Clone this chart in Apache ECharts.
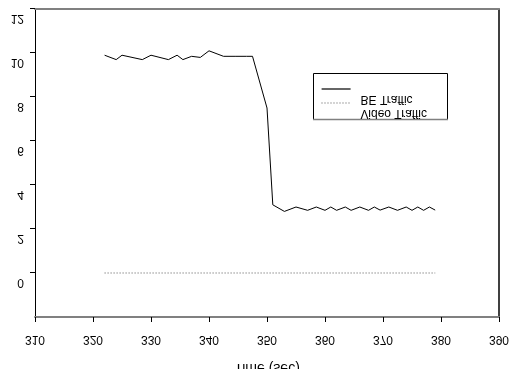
<!DOCTYPE html>
<html>
<head>
<meta charset="utf-8">
<script src="https://cdn.jsdelivr.net/npm/echarts@6/dist/echarts.min.js"></script>
<style>
  html, body { margin: 0; padding: 0; background: #fff; }
  /* the reference is drawn upside down, so the chart is built inverted and flipped back */
  #chart { width: 510px; height: 369px; transform: scaleY(-1); }
</style>
</head>
<body>
<div id="chart"></div>
<script>
// BE traffic (time in sec, value)
const beTime = [322, 324, 325, 328.5, 330, 333, 334.5, 335.5, 337, 338.5,
    340, 342.5, 344.5, 346.5, 347.5, 350, 351, 353,
    355, 357, 358.5, 360, 361, 362, 363.5, 364.5, 366, 367.5,
    368.5, 369.5, 371, 372.5, 374, 375, 376, 377, 378, 379];
const beValue = [9.9, 9.7, 9.9, 9.7, 9.9, 9.7, 9.9, 9.7, 9.85, 9.8,
    10.1, 9.85, 9.85, 9.85, 9.85, 7.5, 3.1, 2.8,
    3.0, 2.85, 3.0, 2.85, 3.0, 2.85, 3.0, 2.85, 3.0, 2.85,
    3.0, 2.86, 3.0, 2.85, 3.0, 2.85, 3.0, 2.85, 3.0, 2.86];
// Video traffic
const videoTime = [322, 379];
const videoValue = [0, 0];
// axis ticks
const xTicks = [310, 320, 330, 340, 350, 360, 370, 380, 390];
const yTicks = [0, 2, 4, 6, 8, 10, 12];

const font = "'Liberation Sans', Arial, sans-serif";

let chart = echarts.init(document.getElementById('chart'));

let legendText = {
    fontFamily: font, fontSize: 12, color: '#000',
    rich: {a: {fontFamily: font, fontSize: 12, color: '#000', padding: [0, 0, 20, 5]}}
};

let option = {
    animation: false,
    grid: {left: 35, right: 11, top: 52, bottom: 9, outerBoundsMode: 'none', containLabel: false},
    xAxis: [{
        type: 'value', position: 'top', min: 310, max: 390, interval: 10,
        name: 'Time (sec)', nameLocation: 'middle', nameGap: 44,
        nameTextStyle: {fontFamily: font, fontSize: 14, color: '#000'},
        axisLine: {onZero: false, lineStyle: {color: '#808080', width: 2}},
        axisTick: {show: true, length: 5, lineStyle: {color: '#000'}, customValues: xTicks},
        axisLabel: {fontFamily: font, fontSize: 12, color: '#000', margin: 16, customValues: xTicks},
        splitLine: {show: false}
    }, {
        type: 'value', position: 'bottom', min: 310, max: 390,
        axisLine: {show: true, onZero: false, lineStyle: {color: '#808080', width: 2}},
        axisTick: {show: false}, axisLabel: {show: false}, splitLine: {show: false}
    }],
    yAxis: [{
        type: 'value', inverse: true, min: -2, max: 12, interval: 2,
        axisLine: {show: true, onZero: false, lineStyle: {color: '#000', width: 1}},
        axisTick: {show: true, length: 5, lineStyle: {color: '#000'}, customValues: yTicks},
        axisLabel: {fontFamily: font, fontSize: 12, color: '#000', margin: 11,
            verticalAlign: 'bottom', lineHeight: 19, customValues: yTicks},
        splitLine: {show: false}
    }, {
        type: 'value', inverse: true, min: -2, max: 12, position: 'right',
        axisLine: {show: true, onZero: false, lineStyle: {color: '#000', width: 1.5}},
        axisTick: {show: false}, axisLabel: {show: false}, splitLine: {show: false}
    }],
    legend: [{
        data: ['Video Traffic'], left: 321, top: 250, padding: 0,
        itemWidth: 29, itemHeight: 10, itemStyle: {opacity: 0},
        lineStyle: {width: 1},
        formatter: '{a|{name}}', textStyle: legendText
    }, {
        data: ['BE Traffic'], left: 321, top: 264, padding: 0,
        itemWidth: 29, itemHeight: 10, itemStyle: {opacity: 0},
        lineStyle: {width: 1.2},
        formatter: '{a|{name}}', textStyle: legendText
    }],
    graphic: [{
        type: 'rect', shape: {x: 313.5, y: 249.5, width: 134, height: 46},
        style: {fill: 'none', stroke: '#000', lineWidth: 1}, z: 1
    }, {
        type: 'line', shape: {x1: 313, y1: 249.5, x2: 448, y2: 249.5},
        style: {stroke: '#808080', lineWidth: 1.5}, z: 2
    }],
    series: [{
        name: 'BE Traffic', type: 'line', showSymbol: false, symbol: 'none',
        data: beTime.map((t, i) => [t, beValue[i]]),
        lineStyle: {color: '#000', width: 1},
        itemStyle: {color: '#000'}
    }, {
        name: 'Video Traffic', type: 'line', showSymbol: false, symbol: 'none',
        data: videoTime.map((t, i) => [t, videoValue[i]]),
        lineStyle: {color: '#555', width: 1, type: [1, 2]},
        itemStyle: {color: '#555'}
    }]
};

chart.setOption(option);
</script>
</body>
</html>
